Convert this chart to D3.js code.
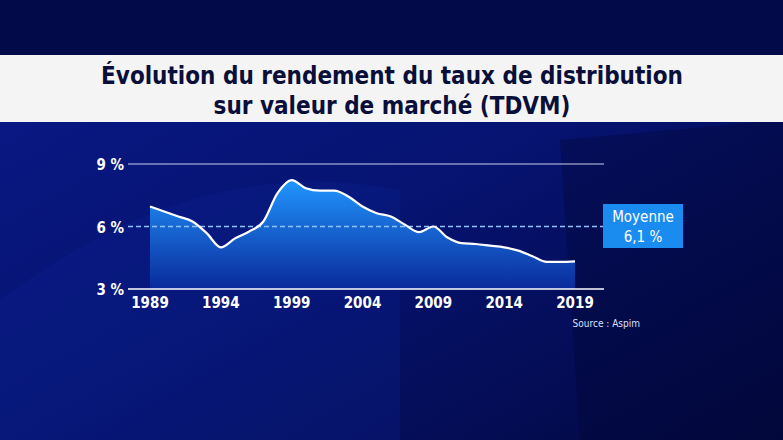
<!DOCTYPE html><html><head><meta charset="utf-8">
<script src="https://cdn.jsdelivr.net/npm/d3@7"></script>
<style>body{margin:0;background:#02093f}svg{display:block}</style></head><body>
<svg id="c" width="783" height="440"></svg>
<script>
const years=d3.range(1989,2020);
const values=[6.96,6.72,6.48,6.24,5.68,5.0,5.43,5.76,6.24,7.6,8.23,7.84,7.72,7.72,7.44,6.96,6.64,6.48,6.08,5.73,6.0,5.47,5.2,5.16,5.08,5.0,4.84,4.57,4.3,4.3,4.33];
const tickYears=[1989,1994,1999,2004,2009,2014,2019];
const tickPct=[3,6,9];
const mean=6.1;
const titleLines=["Évolution du rendement du taux de distribution","sur valeur de marché (TDVM)"];
const F="'DejaVu Sans Condensed','Liberation Sans Narrow',sans-serif";
const svg=d3.select("#c");
const defs=svg.append("defs");
const bg=defs.append("linearGradient").attr("id","bg").attr("x1",0).attr("y1",0).attr("x2",1).attr("y2",1);
bg.append("stop").attr("offset",0).attr("stop-color","#0a1a8a");
bg.append("stop").attr("offset",0.5).attr("stop-color","#061370");
bg.append("stop").attr("offset",1).attr("stop-color","#020840");
svg.append("rect").attr("width",783).attr("height",440).attr("fill","url(#bg)");
svg.append("rect").attr("width",783).attr("height",55).attr("fill","#030a4a");
svg.append("path").attr("d","M0,300 Q200,150 400,190 L400,440 L0,440Z").attr("fill","#0b2499").attr("opacity",0.25);
svg.append("path").attr("d","M560,140 L783,120 L783,440 L580,440Z").attr("fill","#020632").attr("opacity",0.35);
svg.append("rect").attr("x",0).attr("y",55).attr("width",783).attr("height",67).attr("fill","#f4f4f4");
svg.append("text").attr("x",392).attr("y",84).attr("text-anchor","middle").attr("font-family",F).attr("font-weight","bold").attr("font-size",24).attr("fill","#0a0f3a").text(titleLines[0]);
svg.append("text").attr("x",392).attr("y",114).attr("text-anchor","middle").attr("font-family",F).attr("font-weight","bold").attr("font-size",24).attr("fill","#0a0f3a").text(titleLines[1]);
const x=d3.scaleLinear().domain([1989,2019]).range([150,575]);
const y=d3.scaleLinear().domain([3,9]).range([289,164]);
const ag=defs.append("linearGradient").attr("id","ag").attr("x1",0).attr("y1",0).attr("x2",0).attr("y2",1);
ag.append("stop").attr("offset",0).attr("stop-color","#2196ff");
ag.append("stop").attr("offset",1).attr("stop-color","#0a2a9a");
const data=years.map((d,i)=>({yr:d,v:values[i]}));
svg.append("path").datum(data).attr("fill","url(#ag)").attr("d",d3.area().curve(d3.curveMonotoneX).x(d=>x(d.yr)).y0(y(3)).y1(d=>y(d.v)));
svg.append("line").attr("x1",128).attr("x2",604).attr("y1",y(9)).attr("y2",y(9)).attr("stroke","#c8d0ee").attr("stroke-width",1.2);
svg.append("line").attr("x1",128).attr("x2",604).attr("y1",y(3)).attr("y2",y(3)).attr("stroke","#fff").attr("stroke-width",1.5);
svg.append("line").attr("x1",128).attr("x2",604).attr("y1",y(6)).attr("y2",y(6)).attr("stroke","#8fc4ff").attr("stroke-width",1.5).attr("stroke-dasharray","5,3");
svg.append("path").datum(data).attr("fill","none").attr("stroke","#fff").attr("stroke-width",2.2).attr("d",d3.line().curve(d3.curveMonotoneX).x(d=>x(d.yr)).y(d=>y(d.v)));
svg.selectAll(".yt").data(tickPct).join("text").attr("x",124).attr("y",d=>y(d)+6).attr("text-anchor","end").attr("font-family",F).attr("font-weight","bold").attr("font-size",15).attr("fill","#fff").text(d=>d+" %");
svg.selectAll(".xt").data(tickYears).join("text").attr("x",d=>x(d)).attr("y",308).attr("text-anchor","middle").attr("font-family",F).attr("font-weight","bold").attr("font-size",15).attr("fill","#fff").text(d=>d);
svg.append("text").attr("x",640).attr("y",327).attr("text-anchor","end").attr("font-family",F).attr("font-size",10).attr("fill","#d8e0ff").text("Source : Aspim");
svg.append("rect").attr("x",603).attr("y",204).attr("width",80).attr("height",44).attr("fill","#1a8cf0");
svg.append("text").attr("x",643).attr("y",222).attr("text-anchor","middle").attr("font-family",F).attr("font-size",15).attr("fill","#fff").text("Moyenne");
svg.append("text").attr("x",643).attr("y",242).attr("text-anchor","middle").attr("font-family",F).attr("font-size",15).attr("fill","#fff").text(String(mean).replace(".",",")+" %");
</script></body></html>
